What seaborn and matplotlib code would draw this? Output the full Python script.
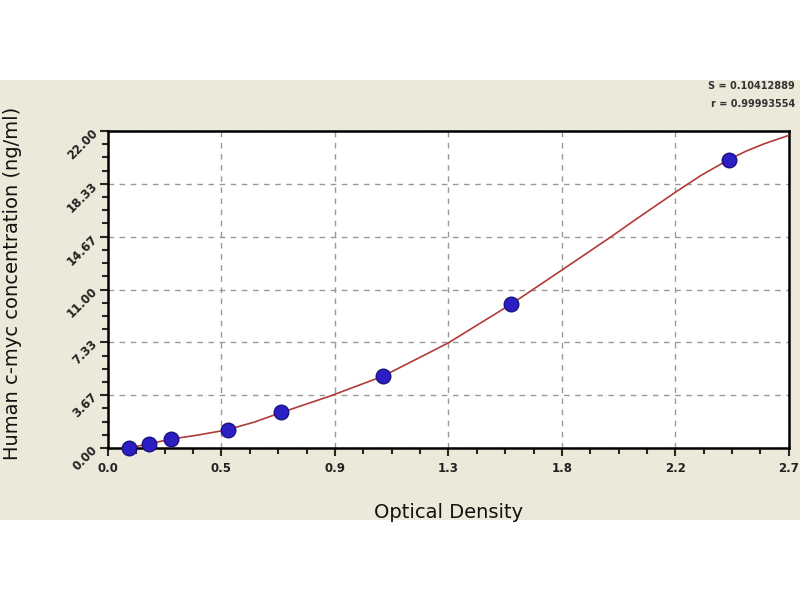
import pandas as pd
import matplotlib
matplotlib.use("Agg")
import matplotlib.pyplot as plt
import seaborn as sns
from matplotlib.patches import Rectangle
from matplotlib.ticker import AutoMinorLocator

# standards (OD vs concentration)
od_points = [0.085, 0.163, 0.249, 0.474, 0.686, 1.089, 1.600, 2.461]
conc_points = [0.0, 0.31, 0.625, 1.25, 2.5, 5.0, 10.0, 20.0]

# fitted curve
curve_od = [0.0, 0.08, 0.16, 0.25, 0.35, 0.47, 0.58, 0.69, 0.88, 1.09, 1.35,
            1.6, 1.8, 1.99, 2.1, 2.25, 2.35, 2.46, 2.53, 2.6, 2.7]
curve_conc = [-0.1, 0.0, 0.28, 0.62, 0.88, 1.25, 1.8, 2.48, 3.6, 4.98, 7.3,
              10.0, 12.35, 14.6, 15.95, 17.75, 18.9, 20.0, 20.6, 21.1, 21.7]

x_ticks = [0.0, 0.45, 0.9, 1.35, 1.8, 2.25, 2.7]
x_labels = ["0.0", "0.5", "0.9", "1.3", "1.8", "2.2", "2.7"]
y_ticks = [0.0, 22 / 6, 22 / 3, 11.0, 44 / 3, 55 / 3, 22.0]
y_labels = ["0.00", "3.67", "7.33", "11.00", "14.67", "18.33", "22.00"]

stats_text = ["S = 0.10412889", "r = 0.99993554"]

sns.set_style("ticks")
plt.rcParams["font.family"] = ["DejaVu Sans"]

pts = pd.DataFrame({"od": od_points, "conc": conc_points})
curve = pd.DataFrame({"od": curve_od, "conc": curve_conc})

fig = plt.figure(figsize=(8, 6), dpi=100, facecolor="white")
# beige panel behind the plot
fig.patches.append(Rectangle((0, 80 / 600), 1, 440 / 600, transform=fig.transFigure,
                             facecolor="#ECE9DA", edgecolor="none", zorder=-5))

ax = fig.add_axes([0.135, 0.2533, 0.851, 0.5283])
ax.set_zorder(2)
ax.set_facecolor("white")

sns.lineplot(data=curve, x="od", y="conc", ax=ax, color="#B23A3A", linewidth=1.2,
             sort=False, zorder=3)
sns.scatterplot(data=pts, x="od", y="conc", ax=ax, s=110, color="#2B1FC4",
                edgecolor="#1A1280", linewidth=1.0, zorder=4, clip_on=False)

ax.set_xlim(0, 2.7)
ax.set_ylim(0, 22)
ax.set_xticks(x_ticks)
ax.set_xticklabels(x_labels, fontsize=8.5, fontweight="bold", color="#222222")
ax.set_yticks(y_ticks)
ax.set_yticklabels(y_labels, fontsize=8.5, fontweight="bold", color="#222222",
                   rotation=45, va="center", ha="right", rotation_mode="anchor")
ax.xaxis.set_minor_locator(AutoMinorLocator(4))
ax.yaxis.set_minor_locator(AutoMinorLocator(4))
ax.tick_params(which="major", direction="out", length=6, width=1.5, pad=4)
ax.tick_params(which="minor", direction="out", length=4, width=1.5)
ax.tick_params(axis="y", pad=3)

ax.grid(True, which="major", color="#999999", linestyle=(0, (4, 4)), linewidth=1.0)
for s in ax.spines.values():
    s.set_visible(True)
    s.set_color("black")
    s.set_linewidth(1.8)

ax.set_xlabel("Optical Density", fontsize=14, labelpad=20, color="#111111")
ax.set_ylabel("")
fig.text(0.016, 0.527, "Human c-myc concentration (ng/ml)", rotation=90, fontsize=14,
         ha="center", va="center", color="#111111")

fig.text(0.994, 0.857, stats_text[0], ha="right", va="center", fontsize=7,
         fontweight="bold", color="#333333")
fig.text(0.994, 0.827, stats_text[1], ha="right", va="center", fontsize=7,
         fontweight="bold", color="#333333")

fig.savefig("out.png", dpi=100, facecolor=fig.get_facecolor())
